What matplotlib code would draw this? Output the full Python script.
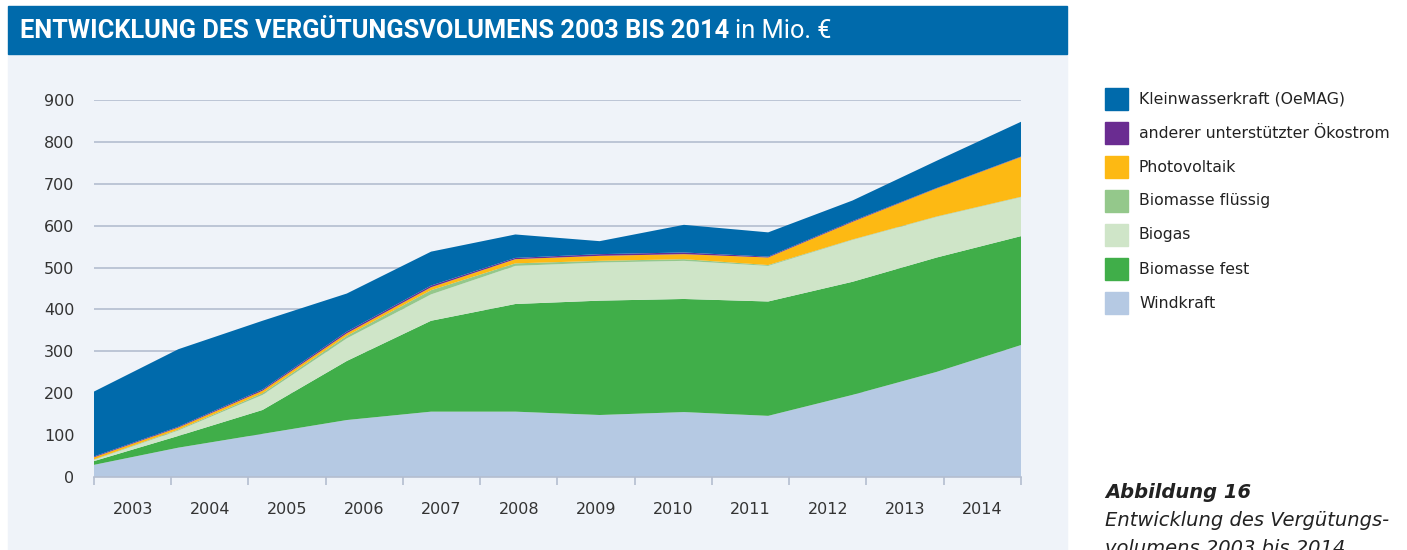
import numpy as np
import matplotlib
matplotlib.use('Agg')
import matplotlib.pyplot as plt
from matplotlib.patches import Rectangle

years = ['2003', '2004', '2005', '2006', '2007', '2008',
         '2009', '2010', '2011', '2012', '2013', '2014']

# values in Mio. EUR, bottom to top
windkraft = [29, 70, 103, 136, 156, 156, 148, 155, 146, 196, 251, 315]
biomasse_fest = [9, 28, 57, 141, 217, 257, 273, 270, 273, 270, 273, 260]
biogas = [3, 13, 36, 54, 63, 91, 91, 91, 85, 100, 97, 93]
biomasse_fluessig = [1, 2, 4, 6, 10, 6, 4, 4, 2, 1, 1, 1]
photovoltaik = [5, 5, 6, 6, 7, 10, 12, 12, 18, 42, 67, 95]
anderer = [2, 2, 3, 4, 4, 3, 4, 4, 2, 2, 1, 1]
kleinwasser = [155, 185, 164, 91, 81, 56, 31, 66, 58, 49, 65, 83]

series = [windkraft, biomasse_fest, biogas, biomasse_fluessig,
          photovoltaik, anderer, kleinwasser]
names = ['Windkraft', 'Biomasse fest', 'Biogas', 'Biomasse flüssig',
         'Photovoltaik', 'anderer unterstützter Ökostrom',
         'Kleinwasserkraft (OeMAG)']
colors = ['#B5C9E3', '#40AE49', '#CFE5C8', '#94C88B',
          '#FDB913', '#6A2C91', '#006AAB']

bg = '#EFF3F9'
grid_c = '#B4BDCF'
txt_c = '#333333'

fig = plt.figure(figsize=(14.07, 5.5), dpi=100)
W, H = 1407, 550

# panel background and title bar
fig.patches.append(Rectangle((8 / W, 0), 1059 / W, (550 - 54) / H,
                             transform=fig.transFigure, color=bg, zorder=0))
fig.patches.append(Rectangle((8 / W, (550 - 54) / H), 1059 / W, 48 / H,
                             transform=fig.transFigure, color='#006AAB', zorder=0))

title_font = ['Liberation Sans Narrow', 'Roboto', 'DejaVu Sans']
t = fig.text(20 / W, (550 - 31) / H, 'ENTWICKLUNG DES VERGÜTUNGSVOLUMENS 2003 BIS 2014',
             color='white', fontsize=18.3, fontweight='bold', family=title_font,
             va='center', ha='left')
fig.canvas.draw()
bb = t.get_window_extent()
fig.text(bb.x1 / W + 6 / W, (550 - 31) / H, 'in Mio. €', color='white',
         fontsize=18.3, family=title_font, va='center', ha='left')

ax = fig.add_axes([94 / W, 73 / H, 927 / W, 377 / H], zorder=2)
ax.set_facecolor(bg)
x = np.linspace(0, 12, len(years))
ax.stackplot(x, *series, colors=colors, linewidth=0, zorder=3)

ax.set_xlim(0, 12)
ax.set_ylim(0, 900)
ax.set_yticks(range(0, 1000, 100))
ax.yaxis.grid(True, color=grid_c, linewidth=1.2, zorder=1)
ax.set_axisbelow(True)
for s in ['top', 'right', 'left']:
    ax.spines[s].set_visible(False)
ax.spines['bottom'].set_color(grid_c)
ax.spines['bottom'].set_linewidth(1.2)
ax.spines['bottom'].set_zorder(4)

ax.set_xticks(range(13))
ax.set_xticklabels([])
ax.set_xticks(np.arange(0.5, 12, 1), minor=True)
ax.set_xticklabels(years, minor=True)
ax.tick_params(axis='x', which='major', length=6, width=1.2, color=grid_c)
ax.tick_params(axis='x', which='minor', length=0, pad=18, labelsize=11.5, labelcolor=txt_c)
ax.tick_params(axis='y', length=0, pad=14, labelsize=11.5, labelcolor=txt_c)

# legend drawn by hand
for i, (n, c) in enumerate(zip(names[::-1], colors[::-1])):
    yc = 99 + i * 34
    fig.patches.append(Rectangle((1105 / W, (550 - yc - 11) / H), 23 / W, 22 / H,
                                 transform=fig.transFigure, color=c))
    fig.text(1139 / W, (550 - yc) / H, n, fontsize=11.3, color='#222222',
             va='center', ha='left')

fig.text(1105 / W, (550 - 492) / H, 'Abbildung 16', fontsize=14, style='italic',
         fontweight='bold', color='#222222', va='center')
fig.text(1105 / W, (550 - 521) / H, 'Entwicklung des Vergütungs-', fontsize=14,
         style='italic', color='#222222', va='center')
fig.text(1105 / W, (550 - 548) / H, 'volumens 2003 bis 2014', fontsize=14,
         style='italic', color='#222222', va='center')

fig.savefig('out.png', dpi=100, facecolor='white')
